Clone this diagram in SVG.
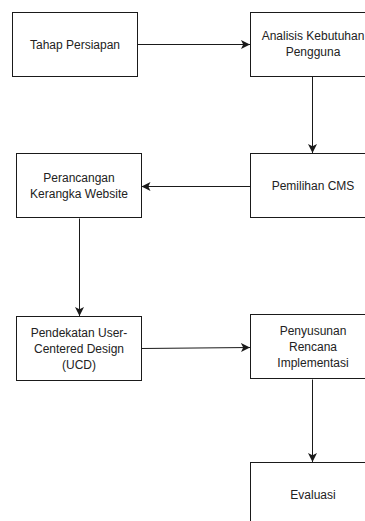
<svg xmlns="http://www.w3.org/2000/svg" width="365" height="521" viewBox="0 0 365 521">
<style>
.box{fill:#fff;stroke:#1a1a1a;stroke-width:1}
.t{font-family:"Liberation Sans",Arial,Helvetica,sans-serif;font-size:12px;fill:#222;text-anchor:middle}
.c{fill:none;stroke:#1a1a1a;stroke-width:1;marker-end:url(#ah)}
</style>
<defs>
<marker id="ah" markerWidth="12" markerHeight="12" refX="9" refY="4.5" orient="auto" markerUnits="userSpaceOnUse">
<path d="M0,0 L9,4.5 L0,9 L2.2,4.5 Z" fill="#1a1a1a"/>
</marker>
</defs>
<rect width="365" height="521" fill="#fff"/>
<g id="connectors">
<path class="c" d="M137.5,44.5 H250"/>
<path class="c" d="M312.5,76.5 V153"/>
<path class="c" d="M250.5,186.5 H141.5"/>
<path class="c" d="M79.5,218.5 V316"/>
<path class="c" d="M141.5,348.5 L250,347.5"/>
<path class="c" d="M312.5,379.5 V462"/>
</g>
<g id="n1"><rect class="box" x="12.5" y="12.5" width="125" height="64"/><text class="t" x="75" y="48.5">Tahap Persiapan</text></g>
<g id="n2"><rect class="box" x="250.5" y="12.5" width="125" height="64"/><text class="t" x="313" y="40">Analisis Kebutuhan</text><text class="t" x="313" y="55.5">Pengguna</text></g>
<g id="n3"><rect class="box" x="250.5" y="153.5" width="125" height="64"/><text class="t" x="313" y="190">Pemilihan CMS</text></g>
<g id="n4"><rect class="box" x="16.5" y="153.5" width="125" height="64"/><text class="t" x="79" y="182">Perancangan</text><text class="t" x="79" y="197.5">Kerangka Website</text></g>
<g id="n5"><rect class="box" x="16.5" y="316.5" width="125" height="64"/><text class="t" x="79" y="337">Pendekatan User-</text><text class="t" x="79" y="353">Centered Design</text><text class="t" x="79" y="369">(UCD)</text></g>
<g id="n6"><rect class="box" x="250.5" y="314.5" width="125" height="64"/><text class="t" x="313" y="335">Penyusunan</text><text class="t" x="313" y="351">Rencana</text><text class="t" x="313" y="367">Implementasi</text></g>
<g id="n7"><rect class="box" x="250.5" y="462.5" width="125" height="64"/><text class="t" x="313" y="499">Evaluasi</text></g>
</svg>
